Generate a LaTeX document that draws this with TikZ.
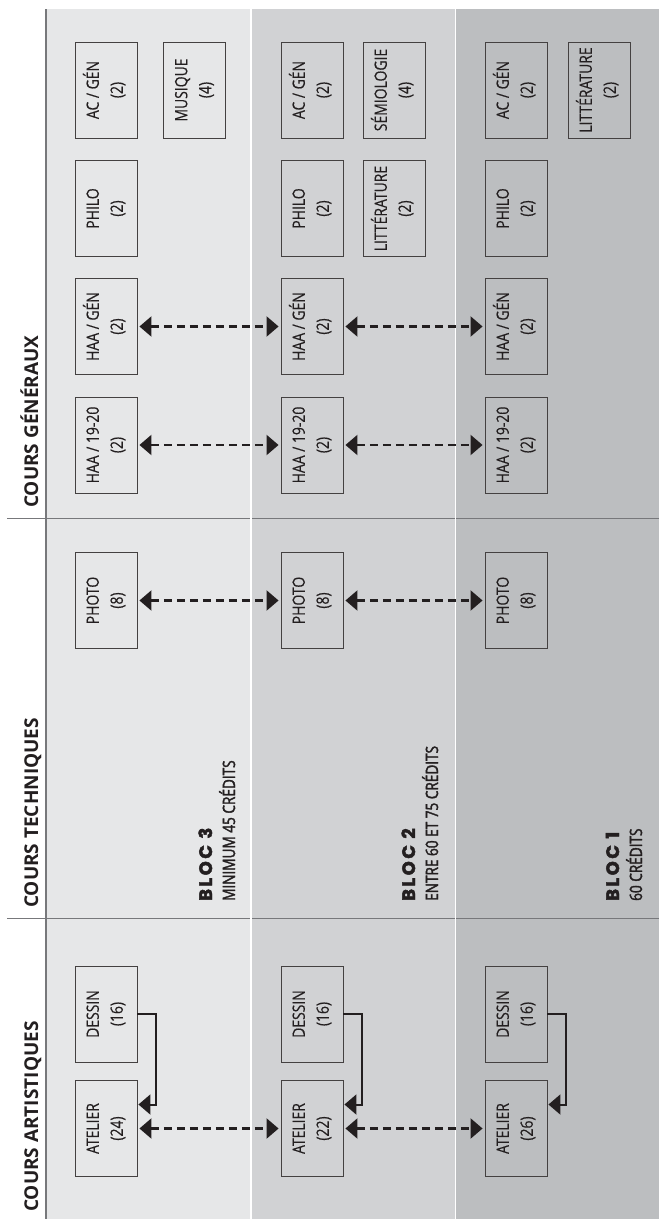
\documentclass[tikz,border=0pt]{standalone}
\usepackage{fontspec}
\setmainfont{Open Sans}
\newfontfamily\boxfont{Open Sans}[FakeStretch=0.82, FakeBold=0.4]
\newfontfamily\subfont{Open Sans}[FakeStretch=0.8, FakeBold=2]
\newfontfamily\blocfont{Poppins}[LetterSpace=14, FakeBold=2.5]
\usetikzlibrary{arrows.meta}
\definecolor{bandA}{HTML}{E6E7E8}
\definecolor{bandB}{HTML}{D1D2D4}
\definecolor{bandC}{HTML}{BCBEC0}
\definecolor{rule}{HTML}{77787B}
\definecolor{ink}{HTML}{231F20}
\tikzset{
    block/.style = {draw=ink!85, line width=0.9pt, rectangle,
        minimum width=62pt, minimum height=96pt, inner sep=0pt,
        font=\boxfont\fontsize{17}{24}\selectfont, text=ink},
    dasharrow/.style = {draw=ink, line width=2.2pt, dash pattern=on 8pt off 5pt,
        {Triangle[width=20pt,length=12pt]}-{Triangle[width=20pt,length=12pt]},
        shorten <=2pt, shorten >=2pt},
    linkarrow/.style = {draw=ink, line width=2pt, -{Triangle[width=20pt,length=12pt]}, shorten >=1pt},
    header/.style = {rotate=90, anchor=base west, inner sep=0pt, text=ink,
        font=\bfseries\fontsize{19}{19}\selectfont},
    bloctitle/.style = {rotate=90, anchor=base west, inner sep=0pt, text=ink,
        font=\blocfont\bfseries\fontsize{18}{18}\selectfont},
    blocsub/.style = {rotate=90, anchor=base west, inner sep=0pt, text=ink,
        font=\subfont\fontsize{17}{17}\selectfont}
}
\newcommand\cours[2]{\rotatebox{90}{\begin{tabular}{@{}c@{}}#1\\(#2)\end{tabular}}}

\begin{document}
\begin{tikzpicture}[x=1pt, y=-1pt, node distance=118.5pt]
    \useasboundingbox (0,0) rectangle (659,1219);
    % bands
    \fill[bandA] (46,9) rectangle (251,1219);
    \fill[bandB] (251,9) rectangle (455.5,1219);
    \fill[bandC] (455.5,9) rectangle (659,1219);
    \draw[rule, line width=1pt] (7,518) -- (659,518) (7,918) -- (659,918);
    \draw[rule, line width=1.2pt] (46,9) -- (46,1219);
    \draw[white, line width=1.2pt] (251,9) -- (251,1219) (455.5,9) -- (455.5,1219);
    % headers
    \node[header] (gen) at (38,508) {COURS GÉNÉRAUX};
    \node[header] (tech) at (38,908) {COURS TECHNIQUES};
    \node[header] (art) at (38,1212) {COURS ARTISTIQUES};
    % one column of courses per bloc
    \foreach \b/\x/\c in {1/106/24, 2/312/22, 3/516/26}{
        \node[block] (acgen\b) at (\x,90) {\cours{AC / GÉN}{2}};
        \node[block, below of=acgen\b] (philo\b) {\cours{PHILO}{2}};
        \node[block, below of=philo\b, node distance=118pt] (haagen\b) {\cours{HAA / GÉN}{2}};
        \node[block, below of=haagen\b] (haa\b) {\cours{HAA / 19-20}{2}};
        \node[block, below of=haa\b, node distance=155.5pt] (photo\b) {\cours{PHOTO}{8}};
        \node[block] (dessin\b) at (\x,1014) {\cours{DESSIN}{16}};
        \node[block, below of=dessin\b, node distance=114.5pt] (atelier\b) {\cours{ATELIER}{\c}};
        \draw[linkarrow] (dessin\b.east) -- ++(19,0) |- ([yshift=24pt]atelier\b.east);
    }
    \node[block, right of=acgen1, node distance=88.5pt] (musique) {\cours{MUSIQUE}{4}};
    \node[block, right of=acgen2, node distance=82pt] (semio) {\cours{SÉMIOLOGIE}{4}};
    \node[block, right of=philo2, node distance=82pt] (litt2) {\cours{LITTÉRATURE}{2}};
    \node[block, right of=acgen3, node distance=83pt] (litt3) {\cours{LITTÉRATURE}{2}};
    % equivalences between blocs
    \foreach \r in {haagen, haa, photo, atelier}{
        \draw[dasharrow] (\r1) -- (\r2);
        \draw[dasharrow] (\r2) -- (\r3);
    }
    % bloc labels
    \foreach \n/\x/\t in {3/235/MINIMUM 45 CRÉDITS, 2/438/ENTRE 60 ET 75 CRÉDITS, 1/642/60 CRÉDITS}{
        \node[bloctitle] (bloc\n) at (\x-23,901) {BLOC \n};
        \node[blocsub] (credits\n) at (\x,901) {\t};
    }
\end{tikzpicture}
\end{document}
